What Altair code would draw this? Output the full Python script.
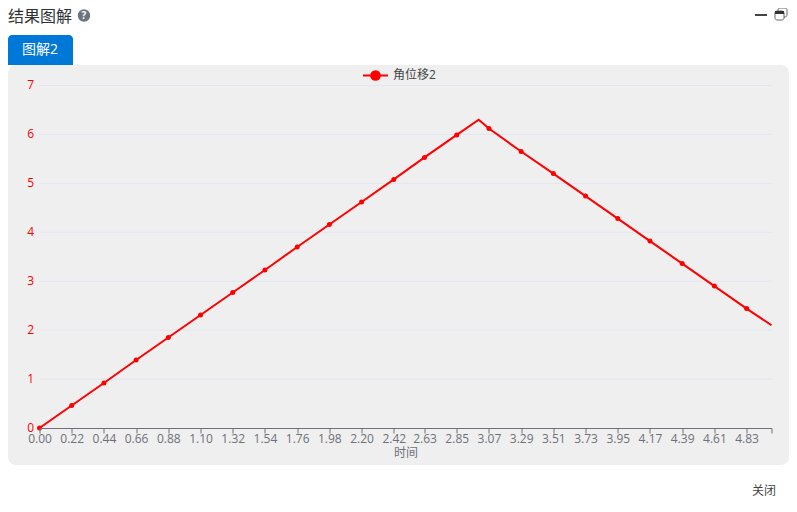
import altair as alt
import pandas as pd

FONT = "Open Sans, Noto Sans CJK SC"

# Data points
line_t = [0.00, 0.22, 0.44, 0.66, 0.88, 1.10, 1.32, 1.54, 1.76, 1.98, 2.20, 2.42, 2.63, 2.85, 3.00,
          3.07, 3.29, 3.51, 3.73, 3.95, 4.17, 4.39, 4.61, 4.83, 5.00]
line_v = [0.00, 0.46, 0.92, 1.39, 1.85, 2.31, 2.77, 3.23, 3.70, 4.16, 4.62, 5.08, 5.53, 5.99, 6.30,
          6.12, 5.65, 5.20, 4.74, 4.28, 3.82, 3.36, 2.90, 2.44, 2.10]
no_marker_t = [3.00, 5.00]
x_ticks = [0.00, 0.22, 0.44, 0.66, 0.88, 1.10, 1.32, 1.54, 1.76, 1.98, 2.20, 2.42, 2.63, 2.85,
           3.07, 3.29, 3.51, 3.73, 3.95, 4.17, 4.39, 4.61, 4.83, 5.00]
y_ticks = [0, 1, 2, 3, 4, 5, 6, 7]
series_name = "角位移2"
x_title = "时间"
page_title = "结果图解"
tab_label = "图解2"
close_label = "关闭"

df = pd.DataFrame({"t": line_t, "v": line_v})
df_pts = df[~df["t"].isin(no_marker_t)]
df_grid = pd.DataFrame({"v": y_ticks[1:]})
one = pd.DataFrame({"a": [0]})

W, H = 732, 342.5
OX, OY = 39.5, 85.5   # page position of plot origin


def px(v):
    return alt.value(v - OX)


def py(v):
    return alt.value(v - OY)


def box(x0, x1, y0, y1, **kw):
    return alt.Chart(one).mark_rect(**kw).encode(x=px(x0), x2=px(x1), y=py(y0), y2=py(y1))


def label(s, x, y, **kw):
    kw.setdefault("font", FONT)
    kw.setdefault("baseline", "middle")
    return alt.Chart(one).mark_text(text=s, **kw).encode(x=px(x), y=py(y))


x_enc = alt.X(
    "t:Q",
    scale=alt.Scale(domain=[0, 5], nice=False, zero=False),
    axis=alt.Axis(
        values=x_ticks,
        labelExpr="datum.value >= 5 ? '' : format(datum.value, '.2f')",
        title=x_title,
        titleFont=FONT,
        titleFontSize=12,
        titleFontWeight="normal",
        titleColor="#6e7079",
        titlePadding=3,
        labelFont=FONT,
        labelFontSize=12,
        labelColor="#6e7079",
        labelPadding=0,
        labelOverlap=False,
        labelFlush=False,
        labelBound=False,
        domainColor="#6e7079",
        tickColor="#6e7079",
        tickSize=5,
        grid=False,
        zindex=1,
    ),
)
y_enc = alt.Y(
    "v:Q",
    scale=alt.Scale(domain=[0, 7], nice=False),
    axis=alt.Axis(
        values=y_ticks,
        title=None,
        domain=False,
        ticks=False,
        grid=False,
        labelFont=FONT,
        labelFontSize=12,
        labelColor="#ff0000",
        labelPadding=6,
        labelOffset=-1,
        zindex=1,
    ),
)

panel = box(8, 789, 65, 465, color="#efefef", cornerRadius=8)
tab = box(8, 73, 35, 65, color="#0078d7", cornerRadiusTopLeft=4, cornerRadiusTopRight=4)
grid = (
    alt.Chart(df_grid)
    .mark_rule(color="#e0e6f1", strokeWidth=1)
    .encode(y=y_enc, x=alt.value(0), x2=alt.value(W))
)
line = alt.Chart(df).mark_line(color="#ff0000", strokeWidth=2).encode(x=x_enc, y=y_enc, order="t:Q")
points = (
    alt.Chart(df_pts)
    .mark_point(filled=True, color="#ff0000", size=25, opacity=1)
    .encode(x=x_enc, y=y_enc)
)

legend_line = alt.Chart(one).mark_rule(color="#ff0000", strokeWidth=2).encode(
    x=px(363), x2=px(388), y=py(75.5))
legend_dot = alt.Chart(one).mark_point(filled=True, color="#ff0000", size=113, opacity=1).encode(
    x=px(375.5), y=py(75.5))

help_dot = alt.Chart(one).mark_point(filled=True, color="#6c757d", size=154, opacity=1).encode(
    x=px(84), y=py(15.5))

chart = alt.layer(
    panel,
    tab,
    grid,
    line,
    points,
    legend_line,
    legend_dot,
    label(series_name, 393, 75, fontSize=12, color="#444444", align="left"),
    label(page_title, 8, 16.5, fontSize=16, color="#303133", align="left"),
    help_dot,
    label("?", 84, 15.5, fontSize=10, fontWeight="bold", color="#ffffff", align="center"),
    label(tab_label, 40, 50, fontSize=14, color="#ffffff", align="center"),
    label(close_label, 764, 491, fontSize=12, color="#444444", align="center"),
    box(755, 767, 14, 16, color="#444444"),
    box(778, 787, 8, 17, fill="#ffffff", stroke="#666666", strokeWidth=1, cornerRadius=2),
    box(775, 784, 11, 20, fill="#ffffff", stroke="#666666", strokeWidth=1, cornerRadius=2),
    box(775, 784, 11, 14, color="#333333"),
).properties(
    width=W,
    height=H,
    autosize=alt.AutoSizeParams(type="none"),
    padding={"left": OX - 8, "top": OY - 8, "right": 17.5, "bottom": 70},
    background="#ffffff",
).configure_view(stroke=None)

chart.save("out.html", embed_options={"renderer": "svg", "actions": False})
